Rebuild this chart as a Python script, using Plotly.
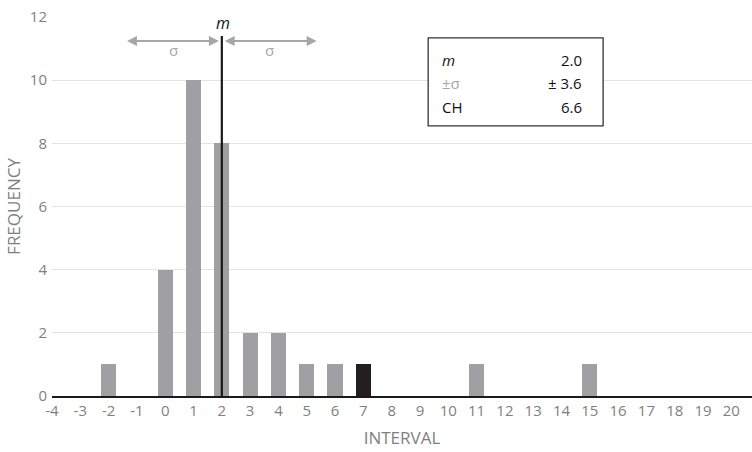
import plotly.graph_objects as go

# Data
intervals = [-2, 0, 1, 2, 3, 4, 5, 6, 7, 11, 15]
frequency = [1, 4, 10, 8, 2, 2, 1, 1, 1, 1, 1]
highlight = [False, False, False, False, False, False, False, False, True, False, False]
x_ticks = list(range(-4, 21))
y_ticks = [0, 2, 4, 6, 8, 10, 12]
stat_labels = ["m", "±σ", "CH"]
stat_values = ["2.0", "± 3.6", "6.6"]
mean_value = 2.0
sigma_value = 3.6

GRAY = "#A0A0A3"
DARK = "#231F20"
TXT = "#7F7F7F"
FONT = "Open Sans"

colors = [DARK if h else GRAY for h in highlight]

fig = go.Figure()
fig.add_trace(go.Bar(x=intervals, y=frequency, width=0.54,
                     marker=dict(color=colors, line=dict(width=0)),
                     showlegend=False, hoverinfo="x+y"))

# mean line
fig.add_shape(type="line", x0=mean_value, x1=mean_value, y0=0, y1=11.4,
              xref="x", yref="y", line=dict(color="#1a1a1a", width=2.2), layer="above")

arrow_len = 3.35
arrow_y = 11.24
for x0, x1 in [(mean_value - 0.05, mean_value - arrow_len),
               (mean_value + 0.05, mean_value + arrow_len)]:
    fig.add_annotation(x=x1, y=arrow_y, ax=x0, ay=arrow_y, xref="x", yref="y",
                       axref="x", ayref="y", text="", showarrow=True,
                       arrowhead=2, arrowside="end+start", arrowsize=1.1,
                       arrowwidth=1.8, arrowcolor="#A6A6A6")
    fig.add_annotation(x=(x0 + x1) / 2, y=10.97, xref="x", yref="y", text="σ",
                       showarrow=False, font=dict(family=FONT, size=15, color="#A6A6A6"))

fig.add_annotation(x=mean_value + 0.05, y=11.8, xref="x", yref="y", text="<i>m</i>",
                   showarrow=False, font=dict(family=FONT, size=16, color="#111111"))

# stats box
fig.add_shape(type="rect", x0=9.29, x1=15.47, y0=8.55, y1=11.34, xref="x", yref="y",
              line=dict(color="#333333", width=1.3), fillcolor="white", layer="above")
row_y = [10.64, 9.91, 9.15]
for lbl, val, yy in zip(stat_labels, stat_values, row_y):
    lbl_color = "#A6A6A6" if lbl == "±σ" else "#111111"
    lbl_txt = "<i>m</i>" if lbl == "m" else lbl
    fig.add_annotation(x=9.72, y=yy, xref="x", yref="y", text=lbl_txt, xanchor="left",
                       showarrow=False, font=dict(family=FONT, size=15, color=lbl_color))
    fig.add_annotation(x=14.8, y=yy, xref="x", yref="y", text=val, xanchor="right",
                       showarrow=False, font=dict(family=FONT, size=15, color="#111111"))

fig.update_layout(
    width=752, height=452,
    margin=dict(l=52, r=0, t=17, b=56),
    paper_bgcolor="white", plot_bgcolor="white",
    font=dict(family=FONT, size=15, color=TXT),
    bargap=0,
    xaxis=dict(range=[-4, 20.73], tickmode="array", tickvals=x_ticks,
               ticktext=[str(v) for v in x_ticks], showgrid=False, zeroline=False,
               showline=True, linecolor="#1a1a1a", linewidth=2, ticks="",
               automargin=False,
               tickfont=dict(family=FONT, size=15, color=TXT),
               title=dict(text="INTERVAL", font=dict(family=FONT, size=17, color=TXT), standoff=13)),
    yaxis=dict(range=[0, 12], tickmode="array", tickvals=y_ticks,
               showgrid=True, gridcolor="#E3E3E3", gridwidth=1, zeroline=False,
               showline=False, ticks="", ticklabelstandoff=4, automargin=False,
               tickfont=dict(family=FONT, size=15, color=TXT),
               title=dict(text="FREQUENCY", font=dict(family=FONT, size=17, color=TXT), standoff=4)),
)

fig.write_html("out.html", config={"displayModeBar": False},
               post_script="document.body.style.margin='0px';document.body.style.overflow='hidden';")
